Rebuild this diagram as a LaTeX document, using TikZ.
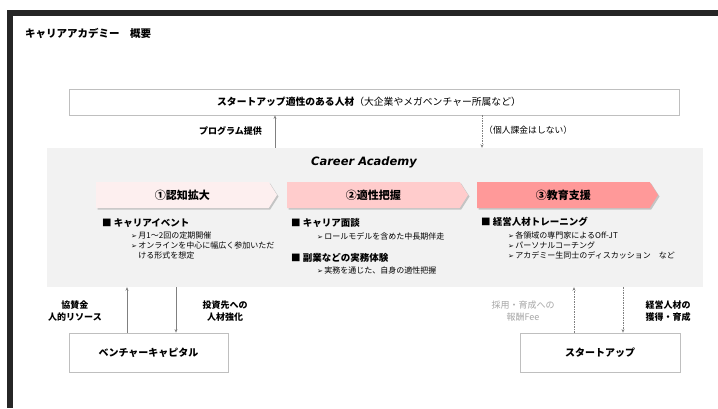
\documentclass[tikz,border=0pt]{standalone}
\usepackage{fontspec}
\setmainfont{Noto Sans CJK JP}
\newfontfamily\symfont{DejaVu Sans}
\newfontfamily\latinfont{DejaVu Sans}
\usetikzlibrary{positioning,shapes.symbols,shadows,arrows.meta}

\definecolor{framegray}{HTML}{262626}
\definecolor{panelgray}{HTML}{F2F2F2}
\definecolor{boxline}{HTML}{BFBFBF}
\definecolor{arrowgray}{HTML}{808080}
\definecolor{pinkA}{HTML}{FDEFEF}
\definecolor{pinkB}{HTML}{FFCCCC}
\definecolor{pinkC}{HTML}{FF9999}
\definecolor{feegray}{HTML}{A6A6A6}

\newcommand\sy[1]{{\symfont\fontsize{7}{10}\selectfont #1}}

\tikzset{
  whitebox/.style={draw=boxline, fill=white, line width=0.8pt, inner sep=0pt},
  chevron/.style={shape=signal, signal to=east, signal pointer angle=115,
    minimum width=181pt, minimum height=26pt, inner sep=0pt, outer sep=0pt,
    drop shadow={shadow xshift=1.5pt, shadow yshift=-1.5pt, fill=black!35, opacity=0.6},
    font=\fontsize{11}{13}\selectfont\bfseries},
  head/.style={anchor=west, inner sep=0pt, font=\fontsize{9.5}{11}\selectfont\bfseries},
  sub/.style={anchor=north west, inner sep=0pt, align=left, font=\fontsize{8}{10}\selectfont},
  flow/.style={draw=arrowgray, line width=0.6pt, -{Stealth[length=3.5pt,width=3pt]}},
  flowdash/.style={flow, dash pattern=on 1.5pt off 1pt},
  side/.style={align=center, inner sep=0pt, font=\fontsize{9}{12}\selectfont\bfseries},
}

\begin{document}
\begin{tikzpicture}[x=1pt,y=-1pt]
  \fill[white] (0,0) rectangle (718,408);
  \useasboundingbox (0,0) rectangle (718,408);

  %Frame
  \fill[framegray] (7,10) rectangle (718,16);
  \fill[framegray] (7,10) rectangle (13,408);
  \node[anchor=west, inner sep=0pt, font=\fontsize{10.5}{12}\selectfont\bfseries] (title) at (25,33) {キャリアアカデミー　概要};

  %Boxes
  \node[whitebox, minimum width=610pt, minimum height=26pt, font=\fontsize{9.8}{12}\selectfont] (talent) at (374,102)
    {\textbf{スタートアップ適性のある人材}（大企業やメガベンチャー所属など）\hspace*{10pt}};
  \node[fill=panelgray, inner sep=0pt, minimum width=656pt, minimum height=139pt] (panel) at (375,217.5) {};
  \node[whitebox, minimum width=159pt, minimum height=39pt, font=\fontsize{10}{12}\selectfont\bfseries] (vc) at (148.5,352.5) {ベンチャーキャピタル};
  \node[whitebox, minimum width=160pt, minimum height=39pt, font=\fontsize{10}{12}\selectfont\bfseries] (su) at (600,352.5) {スタートアップ};

  \node[font=\latinfont\fontsize{11.5}{13}\selectfont\bfseries\itshape] (ca) at (364,162) {Career Academy};

  %Steps
  \node[chevron, fill=pinkA, anchor=west] (step1) at (96,195) {①認知拡大};
  \node[chevron, fill=pinkB, right=10pt of step1] (step2) {②適性把握};
  \node[chevron, fill=pinkC, right=9pt of step2] (step3) {③教育支援};

  %Bullets
  \node[head] (h1) at (102,223) {■ キャリアイベント};
  \node[sub] (s1) at (131,232) {\sy{➢}\,月1～2回の定期開催\\\sy{➢}\,オンラインを中心に幅広く参加いただ\\\phantom{\sy{➢}\,}ける形式を想定};
  \node[head] (h2) at (291,223) {■ キャリア面談};
  \node[sub] (s2) at (317,232) {\sy{➢}\,ロールモデルを含めた中長期伴走};
  \node[head] (h2b) at (291,258) {■ 副業などの実務体験};
  \node[sub] (s2b) at (317,267) {\sy{➢}\,実務を通じた、自身の適性把握};
  \node[head] (h3) at (481,222) {■ 経営人材トレーニング};
  \node[sub] (s3) at (508,232) {\sy{➢}\,各領域の専門家によるOff-JT\\\sy{➢}\,パーソナルコーチング\\\sy{➢}\,アカデミー生同士のディスカッション　など};

  %Flows
  \draw[flow] (panel.north -| 275,0) -- (talent.south -| 275,0);
  \draw[flowdash] (talent.south -| 482,0) -- (panel.north -| 482,0);
  \node[anchor=east, inner sep=0pt, font=\fontsize{9}{11}\selectfont\bfseries] (prog) at (262,131) {プログラム提供};
  \node[anchor=west, inner sep=0pt, font=\fontsize{8.8}{11}\selectfont] (nofee) at (484,130) {（個人課金はしない）};

  \draw[flow] (vc.north -| 127,0) -- (panel.south -| 127,0);
  \draw[flow] (panel.south -| 176,0) -- (vc.north -| 176,0);
  \draw[flowdash] (su.north -| 574,0) -- (panel.south -| 574,0);
  \draw[flowdash] (panel.south -| 623,0) -- (su.north -| 623,0);

  \node[side] (sponsor) at (75,311) {協賛金\\人的リソース};
  \node[side] (invest) at (225,311) {投資先への\\人材強化};
  \node[side, font=\fontsize{9}{12}\selectfont, text=feegray] (fee) at (523,311) {採用・育成への\\報酬Fee};
  \node[side] (hire) at (668,311) {経営人材の\\獲得・育成};
\end{tikzpicture}
\end{document}
